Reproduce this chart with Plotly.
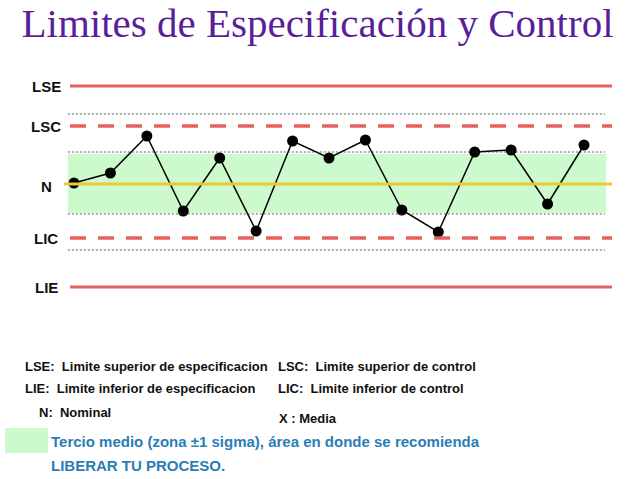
import plotly.graph_objects as go

# ---- data ----
sample_idx = list(range(1, 16))
sample_values = [0.1, 1.1, 4.8, -2.7, 2.6, -4.7, 4.3, 2.6, 4.4, -2.6, -4.8, 3.2, 3.4, -2.0, 3.9]

limit_names = ["LSE", "LSC", "N", "LIC", "LIE"]
limit_values = [9.8, 5.8, 0.0, -5.4, -10.3]
sigma_zone = [-2.9, 3.0]              # green band (±1 sigma)
guide_lines = [7.0, 3.2, -3.0, -6.6]  # thin dotted guides

legend_rows = [
    ("LSE:  Limite superior de especificacion", "LSC:  Limite superior de control"),
    ("LIE:  Limite inferior de especificacion", "LIC:  Limite inferior de control"),
]
nominal_text = "N:  Nominal"
media_text = "X : Media"
zone_text = ["Tercio medio (zona ±1 sigma), área en donde se recomienda", "LIBERAR TU PROCESO."]
title_text = "Limites de Especificación y Control"

W, H = 638, 479
ML, MR, MT, MB = 64, 26, 60, 169
RED = "#E8605F"
YEL = "#EBC934"
GREEN = "#CCFACC"

fig = go.Figure()
plot_w = W - ML - MR
plot_h = H - MT - MB


def py(pix):  # figure pixel y -> paper fraction
    return (H - MB - pix) / plot_h


def px(pix):  # figure pixel x -> paper fraction
    return (pix - ML) / plot_w


shapes = []
# green band
shapes.append(dict(type="rect", xref="paper", yref="y", x0=0.007, x1=0.989,
                   y0=sigma_zone[0], y1=sigma_zone[1], fillcolor=GREEN, line_width=0, layer="below"))
# dotted guides
for g in guide_lines:
    shapes.append(dict(type="line", xref="paper", yref="y", x0=0.007, x1=0.987, y0=g, y1=g,
                       line=dict(color="#333333", width=0.8, dash="2px,2px")))
# limit lines
for name, v in zip(limit_names, limit_values):
    if name in ("LSE", "LIE"):
        shapes.append(dict(type="line", xref="paper", yref="y", x0=0.011, x1=1.0, y0=v, y1=v,
                           line=dict(color=RED, width=3)))
    elif name in ("LSC", "LIC"):
        shapes.append(dict(type="line", xref="paper", yref="y", x0=0.011, x1=1.0, y0=v, y1=v,
                           line=dict(color=RED, width=3.5, dash="16px,12px")))
    else:
        shapes.append(dict(type="line", xref="paper", yref="y", x0=0.0, x1=1.0, y0=v, y1=v,
                           line=dict(color=YEL, width=3)))

fig.add_trace(go.Scatter(x=sample_idx, y=sample_values, mode="lines+markers",
                         line=dict(color="black", width=1.5),
                         marker=dict(color="black", size=11, symbol="circle"),
                         showlegend=False, hoverinfo="skip"))

annotations = []
# left labels
label_offsets = {"N": -0.2}
for name, v in zip(limit_names, limit_values):
    annotations.append(dict(x=px(46), xref="paper", y=v + label_offsets.get(name, 0), yref="y",
                            text=f"<b>{name}</b>", showarrow=False, xanchor="center", yanchor="middle",
                            font=dict(family="Liberation Sans, Arial", size=15, color="#111111")))

tf = dict(family="Liberation Sans, Arial", size=13, color="#111111")
rows_y = [366, 388]
for (l, r), yy in zip(legend_rows, rows_y):
    annotations.append(dict(x=px(23), y=py(yy), xref="paper", yref="paper", text=f"<b>{l}</b>",
                            showarrow=False, xanchor="left", yanchor="middle", font=tf))
    annotations.append(dict(x=px(276), y=py(yy), xref="paper", yref="paper", text=f"<b>{r}</b>",
                            showarrow=False, xanchor="left", yanchor="middle", font=tf))
annotations.append(dict(x=px(37), y=py(412), xref="paper", yref="paper", text=f"<b>{nominal_text}</b>",
                        showarrow=False, xanchor="left", yanchor="middle", font=tf))
annotations.append(dict(x=px(277), y=py(418), xref="paper", yref="paper", text=f"<b>{media_text}</b>",
                        showarrow=False, xanchor="left", yanchor="middle", font=tf))
bf = dict(family="Liberation Sans, Arial", size=15, color="#2A7DB5")
annotations.append(dict(x=px(49), y=py(441), xref="paper", yref="paper", text=f"<b>{zone_text[0]}</b>",
                        showarrow=False, xanchor="left", yanchor="middle", font=bf))
annotations.append(dict(x=px(49), y=py(465), xref="paper", yref="paper", text=f"<b>{zone_text[1]}</b>",
                        showarrow=False, xanchor="left", yanchor="middle", font=bf))
# green key box
shapes.append(dict(type="rect", xref="paper", yref="paper", x0=px(5), x1=px(48), y0=py(453), y1=py(428),
                   fillcolor=GREEN, line_width=0))

fig.update_layout(
    width=W, height=H,
    margin=dict(l=ML, r=MR, t=MT, b=MB),
    paper_bgcolor="white", plot_bgcolor="white",
    title=dict(text=title_text, x=317.5 / W, xanchor="center", xref="container", y=1 - 23 / H, yanchor="middle",
               font=dict(family="Liberation Serif, Times New Roman, serif", size=41, color="#5A1E9A")),
    xaxis=dict(range=[0.7255, 15.769], visible=False, fixedrange=True),
    yaxis=dict(range=[-12.6, 12.4], visible=False, fixedrange=True),
    shapes=shapes, annotations=annotations,
)

fig.write_html("out.html")
